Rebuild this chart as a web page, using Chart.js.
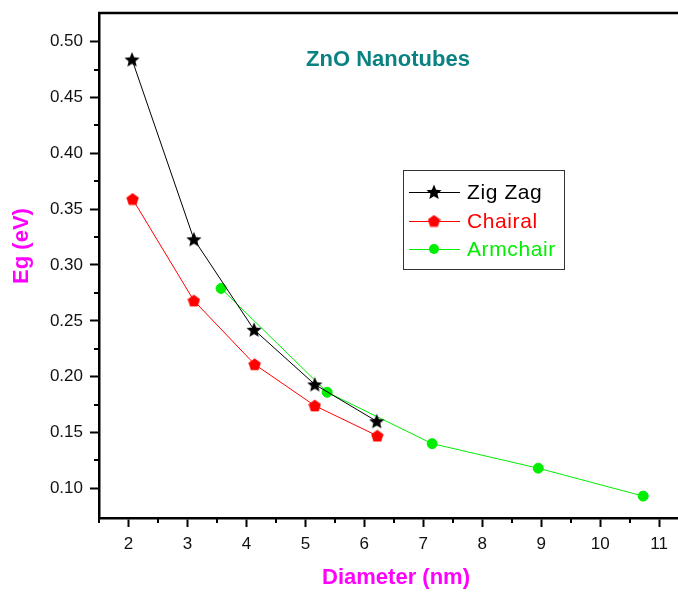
<!DOCTYPE html>
<html>
<head>
<meta charset="utf-8">
<script src="https://cdn.jsdelivr.net/npm/chart.js@4.4.1/dist/chart.umd.min.js"></script>
<style>
  body { margin: 0; background: #fff; }
  #wrap { width: 678px; height: 592px; }
</style>
</head>
<body>
<div id="wrap"><canvas id="eg_chart" width="678" height="592"></canvas></div>
<script>
// values
const zigX = [2.06, 3.11, 4.13, 5.16, 6.21];
const zigY = [0.484, 0.323, 0.242, 0.193, 0.160];
const chairalX = [2.07, 3.11, 4.14, 5.16, 6.22];
const chairalY = [0.359, 0.268, 0.211, 0.174, 0.147];
const armX = [3.57, 5.37, 7.15, 8.95, 10.73];
const armY = [0.279, 0.186, 0.140, 0.118, 0.093];

const seriesNames = ['Zig Zag', 'Chairal', 'Armchair'];

// tick labels
const xTicks = [2, 3, 4, 5, 6, 7, 8, 9, 10, 11];
const xMinor = [1.5, 2.5, 3.5, 4.5, 5.5, 6.5, 7.5, 8.5, 9.5, 10.5];
const yTickLabels = ['0.10', '0.15', '0.20', '0.25', '0.30', '0.35', '0.40', '0.45', '0.50'];
const yMinor = [0.125, 0.175, 0.225, 0.275, 0.325, 0.375, 0.425, 0.475];

const chartTitle = 'ZnO Nanotubes';
const xTitle = 'Diameter (nm)';
const yTitle = 'Eg (eV)';

const FONT = '"Liberation Sans", Arial, sans-serif';

function toPoints(xs, ys) {
	let pts = [];
	for (let i = 0; i < xs.length; i++) {
		pts.push({ x: xs[i], y: ys[i] });
	}
	return pts;
}

// filled marker images (star / pentagon)
function polyMarker(size, color, n, inner) {
	const c = document.createElement('canvas');
	c.width = size; c.height = size;
	const g = c.getContext('2d');
	const r = size / 2;
	g.fillStyle = color;
	g.beginPath();
	const steps = inner ? n * 2 : n;
	for (let i = 0; i < steps; i++) {
		const rad = inner && i % 2 === 1 ? r * inner : r;
		const a = -Math.PI / 2 + i * 2 * Math.PI / steps;
		const px = r + rad * Math.cos(a);
		const py = r + 0.6 + rad * Math.sin(a);
		if (i === 0) g.moveTo(px, py); else g.lineTo(px, py);
	}
	g.closePath();
	g.fill();
	return c;
}
const starImg = polyMarker(16, '#000000', 5, 0.45);
const pentImg = polyMarker(13, '#ff0000', 5, 0);

function drawMarker(ctx, ds, x, y) {
	if (ds.pointStyle instanceof HTMLCanvasElement) {
		const im = ds.pointStyle;
		ctx.drawImage(im, x - im.width / 2, y - im.height / 2);
	} else {
		ctx.fillStyle = ds.pointBackgroundColor;
		ctx.beginPath();
		ctx.arc(x, y, ds.pointRadius, 0, Math.PI * 2);
		ctx.fill();
	}
}

// top border, minor ticks, titles and the boxed legend
const decor = {
	id: 'decor',
	afterDraw(chart) {
		const ctx = chart.ctx;
		const a = chart.chartArea;
		const xs = chart.scales.x, ys = chart.scales.y;
		ctx.save();
		ctx.strokeStyle = '#000';
		ctx.lineWidth = 2.5;
		ctx.beginPath();
		ctx.moveTo(a.left - 1, a.top);
		ctx.lineTo(a.right, a.top);
		ctx.stroke();

		ctx.lineWidth = 2;
		xMinor.forEach(v => {
			const px = Math.round(xs.getPixelForValue(v));
			ctx.beginPath(); ctx.moveTo(px, a.bottom); ctx.lineTo(px, a.bottom + 5); ctx.stroke();
		});
		yMinor.forEach(v => {
			const py = Math.round(ys.getPixelForValue(v));
			ctx.beginPath(); ctx.moveTo(a.left - 5, py); ctx.lineTo(a.left, py); ctx.stroke();
		});

		// titles
		ctx.textAlign = 'center';
		ctx.textBaseline = 'middle';
		ctx.fillStyle = '#0a8282';
		ctx.font = 'bold 22px ' + FONT;
		ctx.fillText(chartTitle, 388, 60);

		ctx.fillStyle = '#ff00ff';
		ctx.font = 'bold 22px ' + FONT;
		ctx.fillText(xTitle, 396, 578);
		ctx.save();
		ctx.translate(22, 246);
		ctx.rotate(-Math.PI / 2);
		ctx.fillText(yTitle, 0, 0);
		ctx.restore();

		// legend
		ctx.strokeStyle = '#333';
		ctx.lineWidth = 1;
		ctx.strokeRect(403.5, 170.5, 161, 99);
		ctx.font = '21px ' + FONT;
		ctx.letterSpacing = '0.6px';
		ctx.textAlign = 'left';
		const rows = [192, 221, 249];
		chart.data.datasets.forEach((ds, i) => {
			const ry = rows[i];
			ctx.strokeStyle = ds.borderColor;
			ctx.lineWidth = 1;
			ctx.beginPath(); ctx.moveTo(409, ry + 0.5); ctx.lineTo(460, ry + 0.5); ctx.stroke();
			drawMarker(ctx, ds, 434, ry);
			ctx.fillStyle = ds.borderColor;
			ctx.fillText(ds.label, 467, ry + 1);
		});
		ctx.restore();
	}
};

const ctx = document.getElementById('eg_chart').getContext('2d');
const eg_chart = new Chart(ctx, {
	type: 'scatter',
	data: {
		datasets: [{
			label: seriesNames[0],
			data: toPoints(zigX, zigY),
			showLine: true,
			borderColor: '#000000',
			borderWidth: 1,
			pointStyle: starImg,
			pointRadius: 8
		}, {
			label: seriesNames[1],
			data: toPoints(chairalX, chairalY),
			showLine: true,
			borderColor: '#ff0000',
			borderWidth: 1,
			pointStyle: pentImg,
			pointRadius: 6
		}, {
			label: seriesNames[2],
			data: toPoints(armX, armY),
			showLine: true,
			borderColor: '#00ee00',
			borderWidth: 1,
			pointStyle: 'circle',
			pointRadius: 5,
			pointBackgroundColor: '#00ee00',
			pointBorderColor: '#00ee00'
		}]
	},
	options: {
		responsive: false,
		animation: false,
		layout: { autoPadding: false, padding: { left: 0, top: 13, right: 0, bottom: 0 } },
		plugins: {
			legend: { display: false },
			tooltip: { enabled: false }
		},
		scales: {
			x: {
				type: 'linear',
				min: 1.5,
				max: 11.32,
				afterFit: s => { s.height = 74; s.paddingLeft = 0; s.paddingRight = 0; },
				afterBuildTicks: s => { s.ticks = xTicks.map(v => ({ value: v })); },
				border: { display: true, color: '#000', width: 2.5 },
				grid: { drawOnChartArea: false, drawTicks: true, tickLength: 9, tickWidth: 2, tickColor: '#000' },
				ticks: {
					color: '#111',
					font: { family: FONT, size: 17 },
					padding: 7,
					maxRotation: 0,
					callback: v => String(v)
				}
			},
			y: {
				type: 'linear',
				min: 0.0734,
				max: 0.5257,
				afterFit: s => { s.width = 99; s.paddingTop = 0; s.paddingBottom = 0; },
				afterBuildTicks: s => { s.ticks = yTickLabels.map(t => ({ value: parseFloat(t) })); },
				border: { display: true, color: '#000', width: 2.5 },
				grid: { drawOnChartArea: false, drawTicks: true, tickLength: 9, tickWidth: 2, tickColor: '#000' },
				ticks: {
					color: '#111',
					font: { family: FONT, size: 17 },
					padding: 7,
					callback: v => yTickLabels.find(t => parseFloat(t) === v) || ''
				}
			}
		}
	},
	plugins: [decor]
});
</script>
</body>
</html>
